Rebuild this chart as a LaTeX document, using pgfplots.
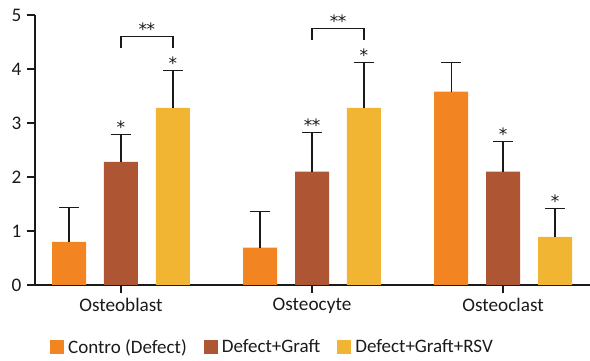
\documentclass[border=0pt]{standalone}
\usepackage{pgfplots}
\pgfplotsset{compat=1.18}
\usepackage{fontspec}
\setmainfont{Carlito}
\newfontfamily\starfont{DejaVu Sans}
\definecolor{cA}{HTML}{F28522}
\definecolor{cB}{HTML}{AE5633}
\definecolor{cC}{HTML}{F1B533}
\definecolor{ax}{HTML}{1A1A1A}
\begin{document}
\begin{tikzpicture}
\useasboundingbox (0,0) rectangle (590pt,361pt);
\begin{axis}[
  at={(35pt,76pt)}, anchor=south west,
  scale only axis, width=555pt, height=270pt,
  xmin=-0.45, xmax=2.455, ymin=0, ymax=5,
  axis lines*=left,
  axis line style={ax, line width=1.2pt},
  ybar, bar width=0.178,
  xtick={0,1,2}, xticklabels={Osteoblast,Osteocyte,Osteoclast},
  ytick={0,1,2,3,4,5},
  tick align=outside, major tick length=8pt,
  tick style={ax, line width=1.2pt},
  /pgf/number format/assume math mode=true,
  tick label style={font=\fontsize{19.2}{22}\selectfont, text=ax},
  xticklabel style={yshift=-2pt},
  yticklabel style={xshift=-2pt},
  legend columns=3,
  legend style={draw=none, fill=none, at={(0.0216,-0.23)}, anchor=west,
    font=\fontsize{19}{22}\selectfont, text=ax,
    /tikz/every even column/.append style={column sep=13pt},
    nodes={inner sep=0pt, inner xsep=4pt}},
  legend image code/.code={\fill[#1, draw=none] (0pt,-7pt) rectangle (14pt,7pt);},
  error bars/y dir=plus, error bars/y explicit,
  error bars/error bar style={ax, line width=1.2pt},
  error bars/error mark options={rotate=90, mark size=10pt, line width=1.2pt, ax},
]
\addplot[fill=cA, draw=none, bar shift=-0.272] table[x=x, y=y, y error=e] {
x y e
0 0.80 0.63
1 0.69 0.67
2 3.58 0.54
};
\addlegendentry{Contro (Defect)}
\addplot[fill=cB, draw=none, bar shift=0] table[x=x, y=y, y error=e] {
x y e
0 2.28 0.50
1 2.10 0.73
2 2.10 0.56
};
\addlegendentry{Defect+Graft}
\addplot[fill=cC, draw=none, bar shift=0.272] table[x=x, y=y, y error=e] {
x y e
0 3.28 0.69
1 3.28 0.84
2 0.89 0.52
};
\addlegendentry{Defect+Graft+RSV}
% significance stars
\begin{scope}[every node/.style={anchor=base, inner sep=0pt, font=\starfont\fontsize{17}{20}\selectfont, text=ax}]
\node at (axis cs:0,2.80) {*};
\node at (axis cs:0.272,3.99) {*};
\node at (axis cs:1,2.85) {*\kern-0.5pt*};
\node at (axis cs:1.272,4.14) {*};
\node at (axis cs:2,2.68) {*};
\node at (axis cs:2.272,1.43) {*};
\node at (axis cs:0.136,4.62) {*\kern-0.5pt*};
\node at (axis cs:1.136,4.77) {*\kern-0.5pt*};
\end{scope}
\draw[ax, line width=1.2pt] (axis cs:0,4.38) -- (axis cs:0,4.6) -- (axis cs:0.272,4.6) -- (axis cs:0.272,4.38);
\draw[ax, line width=1.2pt] (axis cs:1,4.53) -- (axis cs:1,4.75) -- (axis cs:1.272,4.75) -- (axis cs:1.272,4.53);
\end{axis}
\end{tikzpicture}
\end{document}
